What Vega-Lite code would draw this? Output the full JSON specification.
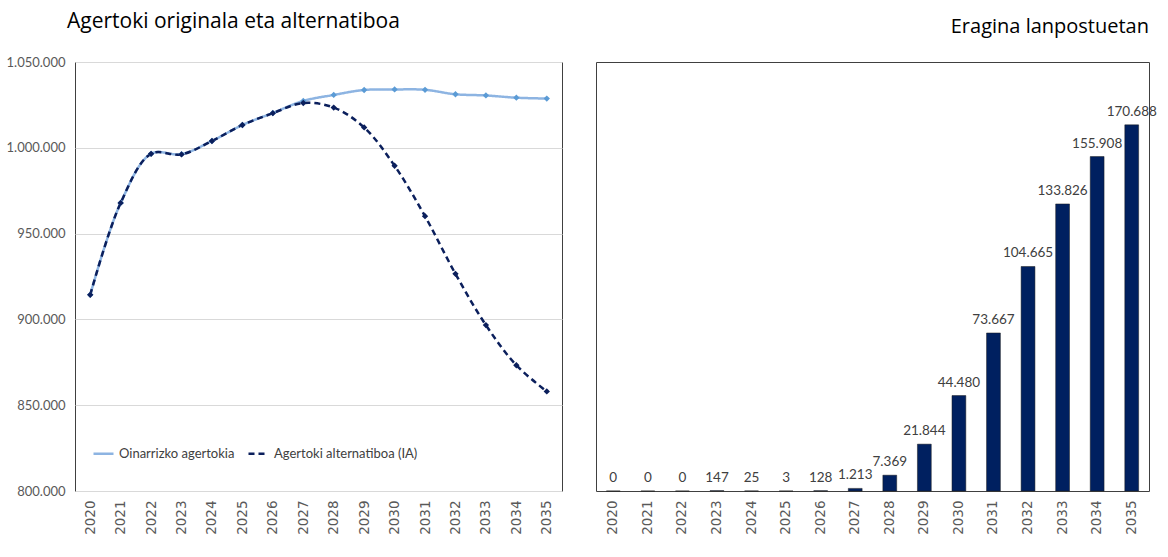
{
  "$schema": "https://vega.github.io/schema/vega-lite/v6.json",
  "background": "white",
  "padding": {"left": 5, "top": 10, "right": 5, "bottom": 5},
  "config": {
    "locale": {"number": {"decimal": ",", "thousands": ".", "grouping": [3], "currency": ["", " €"]}},
    "view": {"stroke": "#404040", "strokeWidth": 1},
    "font": "Lato",
    "concat": {"spacing": 32}
  },
  "datasets": {
    "lines": [
      {"year": "2020", "series": "Oinarrizko agertokia", "value": 914300},
      {"year": "2021", "series": "Oinarrizko agertokia", "value": 967900},
      {"year": "2022", "series": "Oinarrizko agertokia", "value": 996500},
      {"year": "2023", "series": "Oinarrizko agertokia", "value": 996300},
      {"year": "2024", "series": "Oinarrizko agertokia", "value": 1004000},
      {"year": "2025", "series": "Oinarrizko agertokia", "value": 1013300},
      {"year": "2026", "series": "Oinarrizko agertokia", "value": 1020300},
      {"year": "2027", "series": "Oinarrizko agertokia", "value": 1027300},
      {"year": "2028", "series": "Oinarrizko agertokia", "value": 1030800},
      {"year": "2029", "series": "Oinarrizko agertokia", "value": 1033700},
      {"year": "2030", "series": "Oinarrizko agertokia", "value": 1034000},
      {"year": "2031", "series": "Oinarrizko agertokia", "value": 1033800},
      {"year": "2032", "series": "Oinarrizko agertokia", "value": 1031200},
      {"year": "2033", "series": "Oinarrizko agertokia", "value": 1030500},
      {"year": "2034", "series": "Oinarrizko agertokia", "value": 1029200},
      {"year": "2035", "series": "Oinarrizko agertokia", "value": 1028700},
      {"year": "2020", "series": "Agertoki alternatiboa (IA)", "value": 914300},
      {"year": "2021", "series": "Agertoki alternatiboa (IA)", "value": 967900},
      {"year": "2022", "series": "Agertoki alternatiboa (IA)", "value": 996500},
      {"year": "2023", "series": "Agertoki alternatiboa (IA)", "value": 996150},
      {"year": "2024", "series": "Agertoki alternatiboa (IA)", "value": 1003975},
      {"year": "2025", "series": "Agertoki alternatiboa (IA)", "value": 1013297},
      {"year": "2026", "series": "Agertoki alternatiboa (IA)", "value": 1020172},
      {"year": "2027", "series": "Agertoki alternatiboa (IA)", "value": 1026087},
      {"year": "2028", "series": "Agertoki alternatiboa (IA)", "value": 1023431},
      {"year": "2029", "series": "Agertoki alternatiboa (IA)", "value": 1011856},
      {"year": "2030", "series": "Agertoki alternatiboa (IA)", "value": 989520},
      {"year": "2031", "series": "Agertoki alternatiboa (IA)", "value": 960133},
      {"year": "2032", "series": "Agertoki alternatiboa (IA)", "value": 926535},
      {"year": "2033", "series": "Agertoki alternatiboa (IA)", "value": 896674},
      {"year": "2034", "series": "Agertoki alternatiboa (IA)", "value": 873292},
      {"year": "2035", "series": "Agertoki alternatiboa (IA)", "value": 858012}
    ],
    "jobs": [
      {"year": "2020", "value": 0},
      {"year": "2021", "value": 0},
      {"year": "2022", "value": 0},
      {"year": "2023", "value": 147},
      {"year": "2024", "value": 25},
      {"year": "2025", "value": 3},
      {"year": "2026", "value": 128},
      {"year": "2027", "value": 1213},
      {"year": "2028", "value": 7369},
      {"year": "2029", "value": 21844},
      {"year": "2030", "value": 44480},
      {"year": "2031", "value": 73667},
      {"year": "2032", "value": 104665},
      {"year": "2033", "value": 133826},
      {"year": "2034", "value": 155908},
      {"year": "2035", "value": 170688}
    ]
  },
  "hconcat": [
    {
      "width": 487,
      "height": 429,
      "title": {"text": "Agertoki originala eta alternatiboa", "anchor": "start", "frame": "group", "dx": -8, "fontSize": 21, "fontWeight": "normal", "color": "#000000", "font": "Open Sans", "offset": 24},
      "data": {"name": "lines"},
      "encoding": {
        "x": {"field": "year", "type": "ordinal", "scale": {"type": "point", "padding": 0.5}, "axis": {"title": null, "labelAngle": -90, "ticks": false, "domain": false, "labelPadding": 9, "labelFontSize": 13.5, "labelFont": "DejaVu Sans", "labelColor": "#595959"}},
        "y": {"field": "value", "type": "quantitative", "scale": {"domain": [800000, 1050000], "nice": false, "zero": false}, "axis": {"title": null, "values": [800000, 850000, 900000, 950000, 1000000, 1050000], "format": ",d", "grid": true, "gridColor": "#d9d9d9", "domain": false, "ticks": false, "labelPadding": 10, "labelFontSize": 13, "labelColor": "#595959"}}
      },
      "layer": [
        {
          "mark": {"type": "line", "interpolate": "catmull-rom", "strokeWidth": 2.5},
          "encoding": {
            "color": {"field": "series", "type": "nominal", "scale": {"domain": ["Oinarrizko agertokia", "Agertoki alternatiboa (IA)"], "range": ["#8DB4E2", "#0B1F5C"]}, "legend": {"title": null, "orient": "none", "legendX": 17, "legendY": 380, "direction": "horizontal", "labelFontSize": 13, "labelColor": "#404040", "symbolType": "stroke", "symbolSize": 400, "symbolStrokeWidth": 2.5, "columnPadding": 8}},
            "strokeDash": {"field": "series", "type": "nominal", "scale": {"domain": ["Oinarrizko agertokia", "Agertoki alternatiboa (IA)"], "range": [[1, 0], [6, 4]]}, "legend": {"title": null, "orient": "none", "legendX": 17, "legendY": 380, "direction": "horizontal", "labelFontSize": 13, "labelColor": "#404040", "symbolType": "stroke", "symbolSize": 400, "symbolStrokeWidth": 2.5, "columnPadding": 8}}
          }
        },
        {
          "mark": {"type": "point", "shape": "diamond", "filled": true, "size": 40, "opacity": 1},
          "encoding": {
            "fill": {"field": "series", "type": "nominal", "scale": {"domain": ["Oinarrizko agertokia", "Agertoki alternatiboa (IA)"], "range": ["#5B9BD5", "#0B1F5C"]}, "legend": null}
          }
        }
      ]
    },
    {
      "width": 553,
      "height": 429,
      "title": {"text": "Eragina lanpostuetan", "anchor": "end", "frame": "group", "fontSize": 20, "fontWeight": "normal", "color": "#000000", "font": "Open Sans", "offset": 25},
      "data": {"name": "jobs"},
      "encoding": {
        "x": {"field": "year", "type": "ordinal", "scale": {"type": "band", "paddingInner": 0.6, "paddingOuter": 0.3}, "axis": {"title": null, "labelAngle": -90, "ticks": false, "domain": false, "labelPadding": 9, "labelFontSize": 13.5, "labelFont": "DejaVu Sans", "labelColor": "#595959"}},
        "y": {"field": "value", "type": "quantitative", "scale": {"domain": [0, 200000], "nice": false}, "axis": null}
      },
      "layer": [
        {"mark": {"type": "bar", "color": "#002060", "stroke": "#1a1a1a", "strokeWidth": 0.5}},
        {"mark": {"type": "text", "baseline": "bottom", "dy": -6, "fontSize": 13.5, "color": "#404040"}, "encoding": {"text": {"field": "value", "type": "quantitative", "format": ",d"}}}
      ]
    }
  ]
}
